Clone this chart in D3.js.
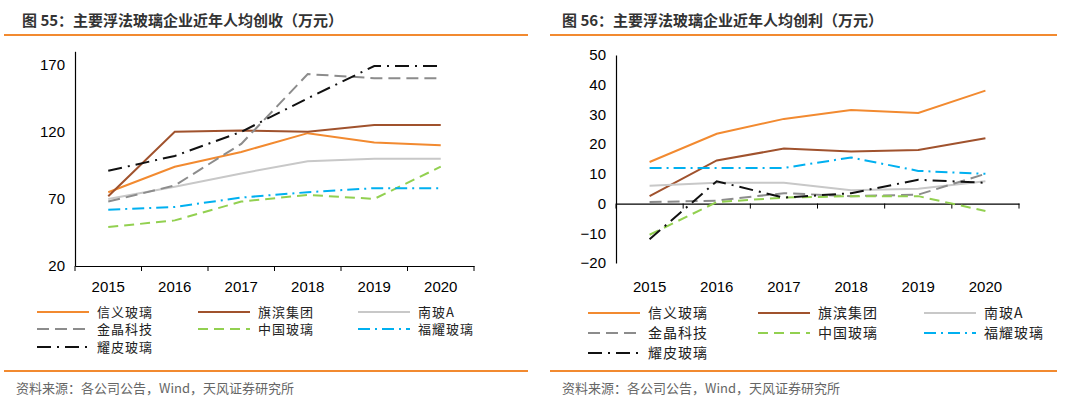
<!DOCTYPE html><html><head><meta charset="utf-8">
<script src="https://cdn.jsdelivr.net/npm/d3@7"></script>
<style>body{margin:0;background:#fff}svg{display:block}</style></head><body>
<svg id="c" width="1080" height="406"></svg>
<script>
const years=["2015","2016","2017","2018","2019","2020"];
const names=["信义玻璃","旗滨集团","南玻A","金晶科技","中国玻璃","福耀玻璃","耀皮玻璃"];
const colors=["#f28a30","#a0522d","#c8c8c8","#8c8c8c","#92d050","#00b0f0","#111111"];
const dashes=[null,null,null,"12,6","10,6","12,5,2,5","14,6,2,6"];
const revXinyi=[75,94,105,119,112,110];
const revQibin=[72,120,121,120,125,125];
const revNanbo=[70,79,89,98,100,100];
const revJinjing=[68,80,111,163,160,160];
const revChina=[49,54,68,73,70,94];
const revFuyao=[62,64,71,75,78,78];
const revYaopi=[91,102,120,145,169,169];
const proXinyi=[14,23.5,28.5,31.5,30.5,38];
const proQibin=[2.5,14.5,18.5,17.5,18,22];
const proNanbo=[6,7,7,4.5,5,7.5];
const proJinjing=[0.5,1,3.5,2.5,3,10];
const proChina=[-10.5,0.5,2,2.5,2.5,-2.5];
const proFuyao=[12,12,12,15.5,11,10];
const proYaopi=[-12,7.5,2,3.5,8,7];
const leftTicks=[20,70,120,170];
const rightTicks=[-20,-10,0,10,20,30,40,50];
const svg=d3.select("#c");
const cjk="'Noto Sans CJK SC','Noto Sans',sans-serif";
function panel(o){
  const g=svg.append("g");
  g.append("text").attr("x",o.tx).attr("y",26).attr("font-family",cjk).attr("font-size",15).attr("font-weight","bold").attr("fill","#333").text(o.title);
  g.append("line").attr("x1",o.lx1).attr("x2",o.lx2).attr("y1",35).attr("y2",35).attr("stroke","#f28a30").attr("stroke-width",2);
  g.append("line").attr("x1",o.lx1).attr("x2",o.lx2).attr("y1",371).attr("y2",371).attr("stroke","#f28a30").attr("stroke-width",2);
  g.append("text").attr("x",o.lx1+12).attr("y",393).attr("font-family",cjk).attr("font-size",13).attr("fill","#666").text("资料来源：各公司公告，Wind，天风证券研究所");
  const x=d3.scaleBand().domain(years).range([o.x0,o.x1]);
  const y=d3.scaleLinear().domain(o.dom).range([o.y0,o.y1]);
  const ax=g.append("g").attr("transform",`translate(${o.x0},0)`).call(d3.axisLeft(y).tickValues(o.ticks).tickSize(4).tickSizeOuter(0));
  ax.select(".domain").attr("stroke","#000").attr("stroke-width",1.2);
  ax.selectAll("text").attr("font-family","'Liberation Sans',Arial").attr("font-size",15).attr("fill","#000").attr("x",-10);
  ax.selectAll(".tick line").remove();
  const bx=g.append("g").attr("transform",`translate(0,${y(o.xAt)})`).call(d3.axisBottom(x).tickSize(5).tickSizeOuter(0));
  bx.selectAll(".tick").remove();
  bx.select(".domain").attr("stroke","#000").attr("stroke-width",1.2);
  g.selectAll(".bt").data(d3.range(7)).join("line").attr("x1",i=>o.x0+i*x.step()).attr("x2",i=>o.x0+i*x.step()).attr("y1",y(o.xAt)).attr("y2",y(o.xAt)+5).attr("stroke","#000");
  g.selectAll(".yl").data(years).join("text").attr("x",d=>x(d)+x.bandwidth()/2).attr("y",o.ylab).attr("text-anchor","middle").attr("font-family","'Liberation Sans',Arial").attr("font-size",15).text(d=>d);
  const line=d3.line().x((d,i)=>x(years[i])+x.bandwidth()/2).y(d=>y(d));
  o.series.forEach((s,k)=>{
    g.append("path").attr("d",line(s)).attr("fill","none").attr("stroke",colors[k]).attr("stroke-width",2).attr("stroke-dasharray",dashes[k]);
  });
  names.forEach((n,k)=>{
    const cx=o.lcols[k%3], cy=o.lrows[Math.floor(k/3)];
    g.append("line").attr("x1",cx).attr("x2",cx+52).attr("y1",cy).attr("y2",cy).attr("stroke",colors[k]).attr("stroke-width",2).attr("stroke-dasharray",dashes[k]);
    g.append("text").attr("x",cx+60).attr("y",cy+4.5).attr("font-family",cjk).attr("font-size",o.lfs).attr("letter-spacing",1).attr("fill","#222").text(n);
  });
}
panel({title:"图 55：主要浮法玻璃企业近年人均创收（万元）",tx:22,lx1:4,lx2:528,x0:75,x1:474,dom:[20,180],y0:266,y1:51.3,ticks:leftTicks,xAt:20,ylab:292,lfs:13,
  series:[revXinyi,revQibin,revNanbo,revJinjing,revChina,revFuyao,revYaopi],lcols:[37,198,358],lrows:[312,329,347]});
panel({title:"图 56：主要浮法玻璃企业近年人均创利（万元）",tx:562,lx1:550,lx2:1057,x0:616,x1:1019,dom:[-20,50],y0:263,y1:55,ticks:rightTicks,xAt:0,ylab:292,lfs:14,
  series:[proXinyi,proQibin,proNanbo,proJinjing,proChina,proFuyao,proYaopi],lcols:[588,758,924],lrows:[313,333,353]});
</script></body></html>
